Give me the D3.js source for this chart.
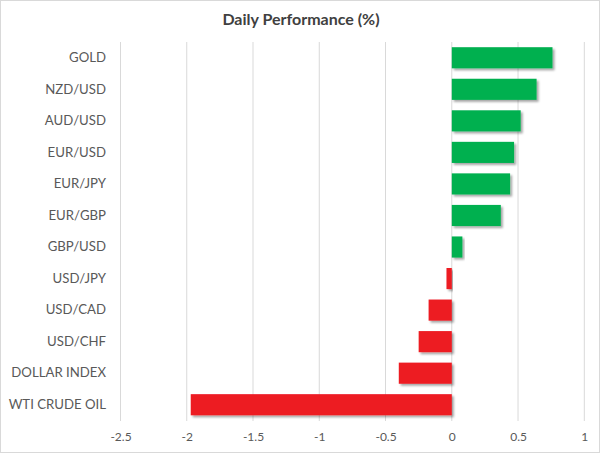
<html>
<head>
<script src="https://d3js.org/d3.v7.min.js"></script>
<style>
  body { margin: 0; background: #fff; }
  text { font-family: Lato, "Open Sans", sans-serif; }
</style>
</head>
<body>
<script>
  // categories top to bottom
  let names = ["GOLD","NZD/USD","AUD/USD","EUR/USD","EUR/JPY","EUR/GBP","GBP/USD","USD/JPY","USD/CAD","USD/CHF","DOLLAR INDEX","WTI CRUDE OIL"];
  // daily change in %
  let values = [0.76, 0.64, 0.52, 0.47, 0.44, 0.37, 0.08, -0.04, -0.175, -0.25, -0.40, -1.97];
  let ticks = [-2.5,-2,-1.5,-1,-0.5,0,0.5,1];

  let width = 600, height = 453;
  let svg = d3.select("body").append("svg")
    .attr("width", width)
    .attr("height", height);

  // drop shadow like the excel bars
  let defs = svg.append("defs");
  let f = defs.append("filter").attr("id","shadow")
    .attr("x","-10%").attr("y","-20%").attr("width","130%").attr("height","160%");
  f.append("feDropShadow")
    .attr("dx",2).attr("dy",2).attr("stdDeviation",1.3)
    .attr("flood-color","#000").attr("flood-opacity",0.35);

  // outer border
  svg.append("rect")
    .attr("x",0.5).attr("y",0.5)
    .attr("width",width-1).attr("height",height-1)
    .attr("fill","#fff").attr("stroke","#d9d9d9");

  // title
  svg.append("text")
    .attr("x",301).attr("y",25)
    .attr("text-anchor","middle")
    .attr("fill","#404040")
    .style("font-size","16px")
    .style("font-weight","bold")
    .text("Daily Performance (%)");

  let x = d3.scaleLinear()
    .domain([-2.5, 1])
    .range([120.5, 584.3]);

  let y = d3.scaleBand()
    .domain(names)
    .range([42, 420.5])
    .paddingInner(0.33)
    .paddingOuter(0.165);

  // gridlines
  svg.append("g")
    .selectAll("line")
    .data(ticks)
    .join("line")
    .attr("x1", d => x(d)).attr("x2", d => x(d))
    .attr("y1", 42).attr("y2", 421)
    .attr("stroke","#d9d9d9")
    .attr("stroke-width",1);

  // x axis labels
  let xAxis = d3.axisBottom(x)
    .tickValues(ticks)
    .tickSize(0)
    .tickPadding(0)
    .tickFormat(d => d.toString());
  let gx = svg.append("g")
    .attr("transform","translate(0,432)")
    .call(xAxis);
  gx.select(".domain").remove();
  gx.selectAll("text")
    .attr("fill","#595959")
    .style("font-size","12px")
    .style("font-family","Lato, 'Open Sans', sans-serif");

  // category labels
  let yAxis = d3.axisLeft(y).tickSize(0).tickPadding(0);
  let gy = svg.append("g")
    .attr("transform","translate(106,0)")
    .call(yAxis);
  gy.select(".domain").remove();
  gy.selectAll("text")
    .attr("fill","#595959")
    .style("font-size","13.2px")
    .style("font-family","Lato, 'Open Sans', sans-serif");

  // bars
  svg.append("g")
    .selectAll("rect")
    .data(names)
    .join("rect")
    .attr("x", (d,i) => x(Math.min(0, values[i])))
    .attr("y", d => y(d))
    .attr("width", (d,i) => Math.abs(x(values[i]) - x(0)))
    .attr("height", y.bandwidth())
    .attr("fill", (d,i) => values[i] >= 0 ? "#00b050" : "#ed1c24")
    .attr("filter","url(#shadow)");
</script>
</body>
</html>
